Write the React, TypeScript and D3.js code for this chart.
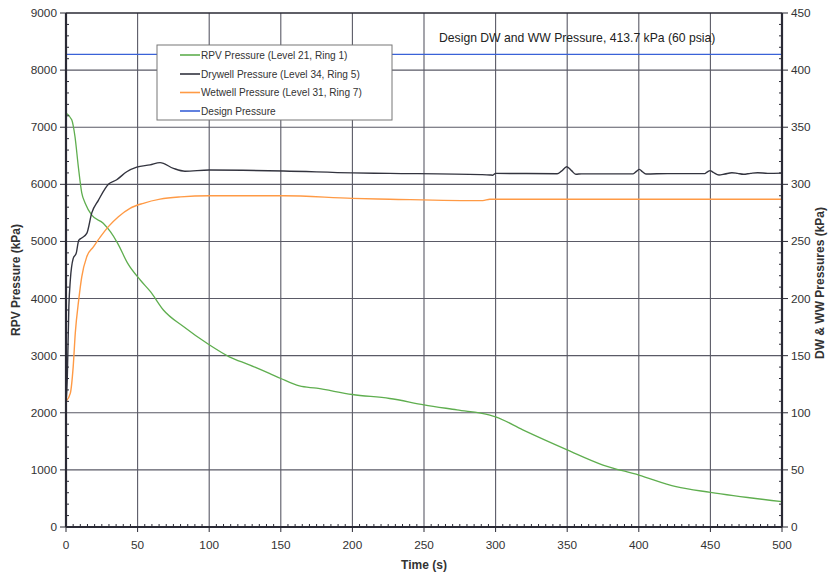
import React from "react";
import * as d3 from "d3";

// ---- Data ----
const rpvTime = [0, 4, 6.3, 8.6, 11, 13.4, 18, 26, 31, 36, 43, 52, 59, 68, 82, 100, 114, 128, 142, 150, 163, 175, 200, 226, 250, 273, 296, 300, 319, 350, 375, 400, 426, 450, 500];
const rpvValue = [7250, 7130, 6830, 6310, 5850, 5670, 5460, 5320, 5170, 4970, 4620, 4320, 4120, 3800, 3510, 3190, 2980, 2840, 2690, 2600, 2470, 2430, 2320, 2250, 2140, 2050, 1960, 1930, 1700, 1350, 1085, 910, 706, 607, 444];

const dwTime = [0, 0.9, 2, 3, 5, 7.2, 8.9, 11, 14.5, 18, 22.6, 29.6, 35.4, 42.4, 49.4, 58.7, 65.7, 75, 83, 100, 152, 200, 226, 290, 296, 298, 300, 343, 346, 349.7, 353, 356, 360, 396, 398.5, 400.4, 402.5, 405, 420, 446, 448, 449.8, 452, 456, 460, 465, 469, 473, 478, 483, 490, 500];
const dwValue = [108, 130, 193, 216, 235, 240, 251, 253, 257, 275, 286, 300, 304, 311, 315, 317, 319, 314, 311.5, 312.5, 311.7, 310, 309.6, 308.5, 308.2, 308, 309.6, 309.3, 311.5, 315.4, 312, 308.8, 309.2, 309.2, 311.5, 313.1, 311, 309, 309.4, 309.4, 311, 312, 310.5, 308.2, 309, 310.2, 309.6, 308.8, 309.6, 310.2, 309.6, 309.8];

const wwTime = [0, 3, 5, 6.5, 8.9, 11, 14.5, 19, 24, 29.6, 36.6, 44.7, 54, 65.7, 80, 100, 152, 200, 226, 291, 296, 300, 500];
const wwValue = [110, 117, 140, 170, 199, 219, 236.6, 245, 254, 263, 271.7, 279, 283.4, 287, 289, 290, 290, 287.7, 287, 285.7, 287, 287, 287];

const designTime = [0, 500];
const designValue = [413.7, 413.7];

const xTicks = [0, 50, 100, 150, 200, 250, 300, 350, 400, 450, 500];
const leftTicks = [0, 1000, 2000, 3000, 4000, 5000, 6000, 7000, 8000, 9000];
const rightTicks = [0, 50, 100, 150, 200, 250, 300, 350, 400, 450];

const legendLabels = [
  "RPV Pressure (Level 21, Ring 1)",
  "Drywell Pressure (Level 34, Ring 5)",
  "Wetwell Pressure (Level 31, Ring 7)",
  "Design Pressure",
];
const seriesColors = ["#5fae4f", "#33343f", "#ff9a45", "#3a62d8"];
const annotation = "Design DW and WW Pressure, 413.7 kPa (60 psia)";

// ---- Layout ----
const W = 833;
const H = 576;
const left = 66;
const right = 782;
const top = 13;
const bottom = 527;

const FONT = "'Liberation Sans', Arial, sans-serif";

export default function App() {
  const x = d3.scaleLinear().domain([0, 500]).range([left, right]);
  const yL = d3.scaleLinear().domain([0, 9000]).range([bottom, top]);
  const yR = d3.scaleLinear().domain([0, 450]).range([bottom, top]);

  const mk = (ts: number[], vs: number[], ys: d3.ScaleLinear<number, number>) =>
    d3
      .line<number>()
      .x((_, i) => x(ts[i]))
      .y((v) => ys(v))
      .curve(d3.curveMonotoneX)(vs) || "";

  const rpvPath = mk(rpvTime, rpvValue, yL);
  const dwPath = mk(dwTime, dwValue, yR);
  const wwPath = mk(wwTime, wwValue, yR);
  const designPath = mk(designTime, designValue, yR);

  const xMinor = d3.range(0, 501, 5).filter((t) => t % 50 !== 0);
  const lMinor = d3.range(0, 9001, 200).filter((v) => v % 1000 !== 0);
  const rMinor = d3.range(0, 451, 10).filter((v) => v % 50 !== 0);

  const gridColor = "#5a5a66";
  const axisColor = "#2a2a35";
  const textColor = "#333";

  const legX = 157;
  const legY = 45;
  const legW = 235;
  const legH = 75;
  const rowY = [55, 74, 92.5, 111];

  return (
    <svg
      width={W}
      height={H}
      style={{ position: "absolute", left: 0, top: 0, display: "block", background: "#fff" }}
      fontFamily={FONT}
    >
      <rect x={0} y={0} width={W} height={H} fill="#fff" />
      {/* grid */}
      {leftTicks.slice(1, -1).map((v) => (
        <line key={"hg" + v} x1={left} x2={right} y1={yL(v)} y2={yL(v)} stroke={gridColor} strokeWidth={1.1} />
      ))}
      {xTicks.slice(1, -1).map((t) => (
        <line key={"vg" + t} x1={x(t)} x2={x(t)} y1={top} y2={bottom} stroke={gridColor} strokeWidth={1.1} />
      ))}

      {/* series */}
      <path d={designPath} fill="none" stroke={seriesColors[3]} strokeWidth={1.3} />
      <path d={rpvPath} fill="none" stroke={seriesColors[0]} strokeWidth={1.3} />
      <path d={wwPath} fill="none" stroke={seriesColors[2]} strokeWidth={1.4} />
      <path d={dwPath} fill="none" stroke={seriesColors[1]} strokeWidth={1.4} />

      {/* frame */}
      <line x1={left} x2={right} y1={top} y2={top} stroke={axisColor} strokeWidth={1.5} />
      <line x1={left} x2={left} y1={top} y2={bottom} stroke={axisColor} strokeWidth={2.2} />
      <line x1={right} x2={right} y1={top} y2={bottom} stroke={axisColor} strokeWidth={2.2} />
      <line x1={left} x2={right} y1={bottom} y2={bottom} stroke={axisColor} strokeWidth={2.2} />

      {/* minor ticks */}
      {xMinor.map((t) => (
        <line key={"xm" + t} x1={x(t)} x2={x(t)} y1={bottom} y2={bottom - 3} stroke={axisColor} strokeWidth={1} />
      ))}
      {lMinor.map((v) => (
        <line key={"lm" + v} x1={left} x2={left + 3} y1={yL(v)} y2={yL(v)} stroke={axisColor} strokeWidth={1} />
      ))}
      {rMinor.map((v) => (
        <line key={"rm" + v} x1={right - 3} x2={right} y1={yR(v)} y2={yR(v)} stroke={axisColor} strokeWidth={1} />
      ))}

      {/* major ticks + labels */}
      {xTicks.map((t) => (
        <g key={"xt" + t}>
          <line x1={x(t)} x2={x(t)} y1={bottom} y2={bottom + 5} stroke={axisColor} strokeWidth={1} />
          <text x={x(t)} y={549} textAnchor="middle" fontSize={11.8} fill={textColor}>
            {t}
          </text>
        </g>
      ))}
      {leftTicks.map((v) => (
        <g key={"lt" + v}>
          <line x1={left - 6} x2={left} y1={yL(v)} y2={yL(v)} stroke={axisColor} strokeWidth={1} />
          <text x={57} y={yL(v) + 4} textAnchor="end" fontSize={11.8} fill={textColor}>
            {v}
          </text>
        </g>
      ))}
      {rightTicks.map((v) => (
        <g key={"rt" + v}>
          <line x1={right} x2={right + 6} y1={yR(v)} y2={yR(v)} stroke={axisColor} strokeWidth={1} />
          <text x={791} y={yR(v) + 4} textAnchor="start" fontSize={11.8} fill={textColor}>
            {v}
          </text>
        </g>
      ))}

      {/* axis titles */}
      <text x={424} y={569} textAnchor="middle" fontSize={12} fontWeight="bold" fill={textColor}>
        Time (s)
      </text>
      <text
        transform={`translate(20, ${(top + bottom) / 2 + 10}) rotate(-90)`}
        textAnchor="middle"
        fontSize={12}
        fontWeight="bold"
        fill={textColor}
      >
        RPV Pressure (kPa)
      </text>
      <text
        transform={`translate(824, ${(top + bottom) / 2 + 13}) rotate(-90)`}
        textAnchor="middle"
        fontSize={12}
        fontWeight="bold"
        fill={textColor}
      >
        DW &amp; WW Pressures (kPa)
      </text>

      {/* annotation */}
      <text x={439} y={42} fontSize={12.2} fill="#222">
        {annotation}
      </text>

      {/* legend */}
      <rect x={legX} y={legY} width={legW} height={legH} fill="#fff" stroke="#777" strokeWidth={1} />
      {legendLabels.map((lab, i) => (
        <g key={"lg" + i}>
          <line x1={180} x2={200} y1={rowY[i]} y2={rowY[i]} stroke={seriesColors[i]} strokeWidth={1.6} />
          <text x={201} y={rowY[i] + 3.6} fontSize={10.1} fill="#333">
            {lab}
          </text>
        </g>
      ))}
    </svg>
  );
}
